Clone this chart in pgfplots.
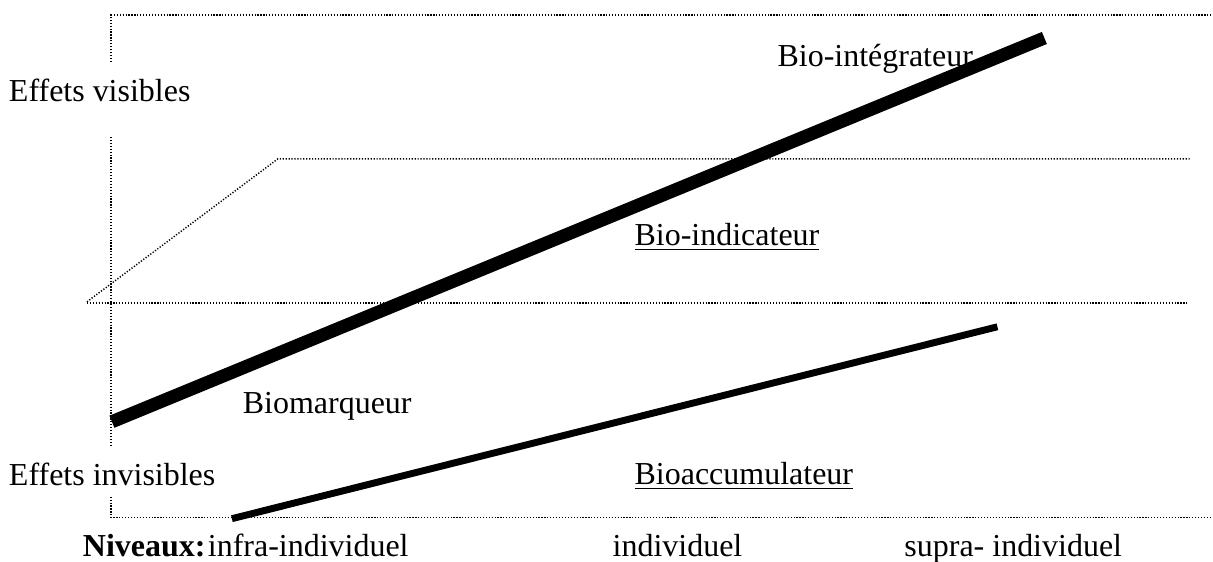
\documentclass[border=0pt]{standalone}
\usepackage{pgfplots}
\pgfplotsset{compat=1.18}
\usepackage{fontspec}
\setmainfont{Liberation Serif}
\tikzset{lbl/.style={font=\fontsize{12pt}{14pt}\selectfont, inner sep=0pt, outer sep=0pt, overlay, anchor=base west}}
\begin{document}
\begin{tikzpicture}
\begin{axis}[
  scale only axis,
  width=454.875pt, height=210.75pt,
  xmin=0, xmax=1213, ymin=0, ymax=562,
  y dir=reverse,
  axis lines=none,
  clip=false,
]
\pgfplotsset{dots/.style={black, line width=0.55pt, dash pattern=on 0.45pt off 0.65pt}}
% invisible frame to fix the bounding box
\addplot[draw=none, forget plot] coordinates {(0,0) (1213,562)};
% dotted framework
\addplot[dots] coordinates {(111,62) (111,15) (1213,15)};
\addplot[dots] coordinates {(111,137) (111,447)};
\addplot[dots] coordinates {(111,497) (111,518) (1213,518)};
\addplot[dots] coordinates {(87,302) (278,159) (1192,159)};
\addplot[dots] coordinates {(87,303) (1188,303)};
% indicator lines
\addplot[black, line width=4.9pt, line cap=butt] coordinates {(112,422) (1045,38)};
\addplot[black, line width=2.6pt, line cap=butt] coordinates {(232,519) (998,327)};
% labels
\node[lbl] at (axis cs:9,102) {Effets visibles};
\node[lbl] at (axis cs:9,486) {Effets invisibles};
\node[lbl] at (axis cs:778,67) {Bio-intégrateur};
\node[lbl] at (axis cs:635,246) {\underline{Bio-indicateur}};
\node[lbl] at (axis cs:243,414) {Biomarqueur};
\node[lbl] at (axis cs:635,485) {\underline{Bioaccumulateur}};
\node[lbl] at (axis cs:83,557) {\textbf{Niveaux:}};
\node[lbl] at (axis cs:208,557) {infra-individuel};
\node[lbl] at (axis cs:613,557) {individuel};
\node[lbl] at (axis cs:905,557) {supra- individuel};
\end{axis}
\end{tikzpicture}
\end{document}
